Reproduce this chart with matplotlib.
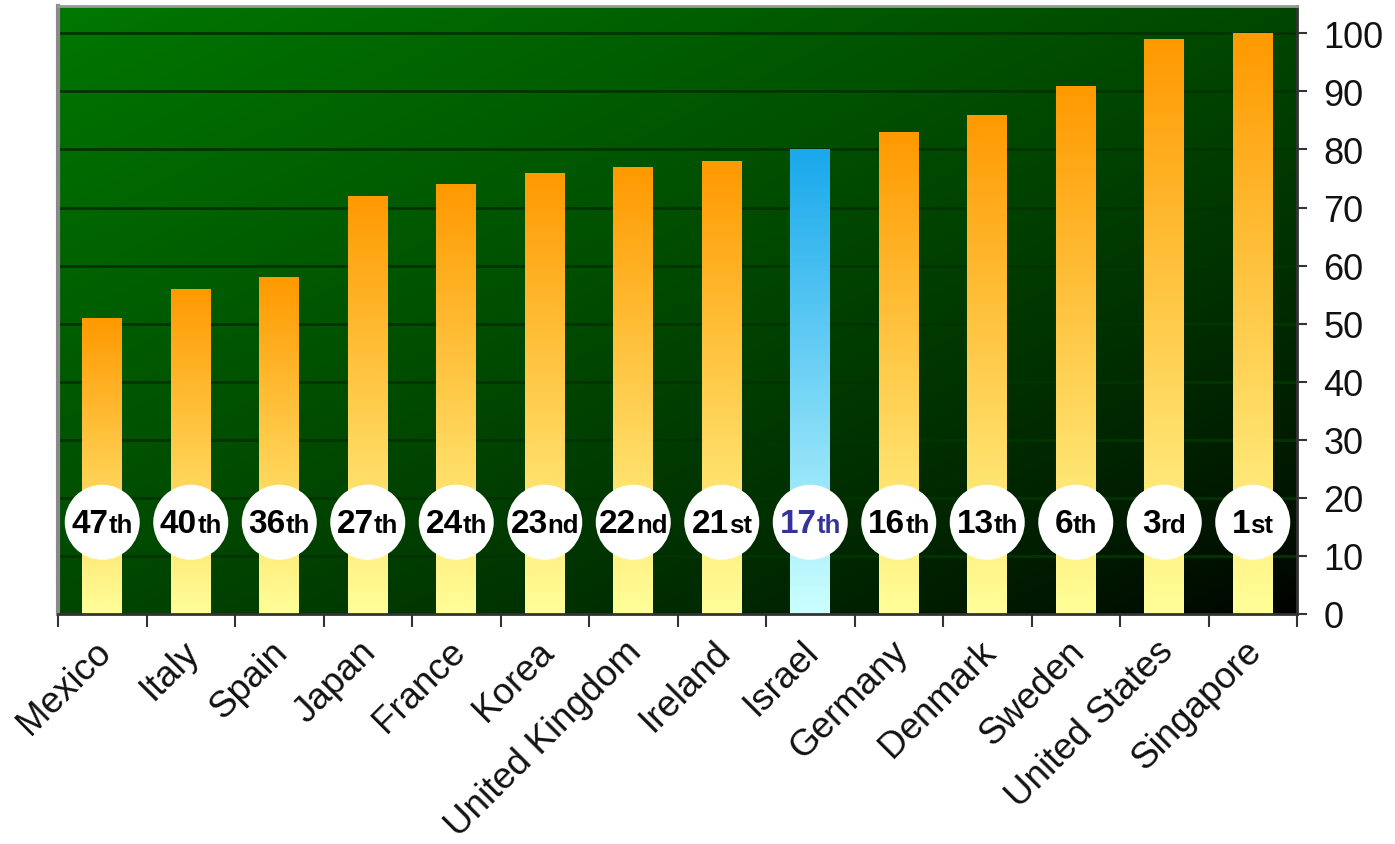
import numpy as np
import matplotlib
matplotlib.use("Agg")
import matplotlib.pyplot as plt
from matplotlib.colors import to_rgb
from matplotlib.offsetbox import TextArea, HPacker, AnnotationBbox
from matplotlib.transforms import ScaledTranslation

# ---- data ----
countries = ["Mexico", "Italy", "Spain", "Japan", "France", "Korea",
             "United Kingdom", "Ireland", "Israel", "Germany", "Denmark",
             "Sweden", "United States", "Singapore"]
scores = [51, 56, 58, 72, 74, 76, 77, 78, 80, 83, 86, 91, 99, 100]
rank_num = ["47", "40", "36", "27", "24", "23", "22", "21", "17", "16", "13", "6", "3", "1"]
rank_suffix = ["th", "th", "th", "th", "th", "nd", "nd", "st", "th", "th", "th", "th", "rd", "st"]
highlight = "Israel"
yticks = list(range(0, 101, 10))

FONT = ["Liberation Sans", "DejaVu Sans"]
plt.rcParams["font.family"] = FONT

fig = plt.figure(figsize=(13.95, 8.45), dpi=100)
ax = fig.add_axes([58 / 1395, 1 - 615 / 845, (1297 - 58) / 1395, (615 - 7) / 845])

n = len(countries)
x = np.arange(n)

# ---- background diagonal gradient (green top-left -> black bottom-right) ----
H, W = 200, 400
uu, vv = np.meshgrid(np.linspace(0, 1, W), np.linspace(0, 1, H))
t = (uu + vv) / 2.0
g = (119 / 255.0) * (1 - t) ** 0.75
bg = np.zeros((H, W, 3))
bg[..., 1] = g
ax.imshow(bg, extent=[0, 1, 0, 1], origin="upper", transform=ax.transAxes,
          aspect="auto", zorder=0, interpolation="bilinear")

# ---- grid ----
for yv in yticks[1:]:
    ax.axhline(yv, color="#023402", lw=2, zorder=1)

# ---- bars with vertical gradient ----
bar_w = 0.447
bars = ax.bar(x, scores, width=bar_w, color="none", edgecolor="none", zorder=2)


def grad_img(top, bottom, npts=256):
    c1 = np.array(to_rgb(top))
    c2 = np.array(to_rgb(bottom))
    s = np.linspace(0, 1, npts)[:, None]
    arr = c1 * (1 - s) + c2 * s
    return arr[:, None, :]


for b, c in zip(bars, countries):
    if c == highlight:
        img = grad_img("#18a8ec", "#ccffff")
    else:
        img = grad_img("#ff9900", "#ffff99")
    im = ax.imshow(img, extent=[b.get_x(), b.get_x() + b.get_width(), 0, b.get_height()],
                   aspect="auto", zorder=2.5, interpolation="bilinear")
    im.set_clip_path(b)

ax.set_xlim(-0.5, n - 0.5)
ax.set_ylim(0, 104.7)

# ---- rank circles and labels ----
circle_y = 15.8
ax.scatter(x, [circle_y] * n, s=54 ** 2, color="white", edgecolor="none", zorder=4)
for xi, num, suf, c in zip(x, rank_num, rank_suffix, countries):
    col = "#333399" if c == highlight else "black"
    t1 = TextArea(num, textprops=dict(fontsize=24, fontweight="bold", color=col, family=FONT))
    t2 = TextArea(suf, textprops=dict(fontsize=18.5, fontweight="bold", color=col, family=FONT))
    box = HPacker(children=[t1, t2], align="baseline", pad=0, sep=0)
    ab = AnnotationBbox(box, (xi, circle_y), xybox=(0, -1), xycoords="data",
                        boxcoords="offset points", frameon=False,
                        box_alignment=(0.5, 0.5), zorder=5)
    ax.add_artist(ab)

# ---- axes styling ----
ax.yaxis.tick_right()
ax.set_yticks(yticks)
ax.set_yticklabels([str(v) for v in yticks])
ax.tick_params(axis="y", direction="out", length=7, width=1.5, color="#333333",
               labelsize=26, pad=12, labelcolor="#111111")

ax.set_xticks(x)
ax.set_xticklabels(countries, rotation=45, ha="right", va="top",
                   rotation_mode="anchor", fontsize=26.5, color="#111111")
ax.tick_params(axis="x", which="major", length=0, pad=14)
shift = ScaledTranslation(-9 / 100, 0, fig.dpi_scale_trans)
for lbl in ax.get_xticklabels():
    lbl.set_transform(lbl.get_transform() + shift)
ax.set_xticks(np.arange(-0.5, n, 1.0), minor=True)
ax.tick_params(axis="x", which="minor", direction="out", length=9, width=1.5,
               color="#333333")

ax.spines["left"].set_color("#8a8a8a")
ax.spines["left"].set_linewidth(3)
ax.spines["top"].set_color("#9a9a9a")
ax.spines["top"].set_linewidth(2)
ax.spines["right"].set_color("#333333")
ax.spines["right"].set_linewidth(2)
ax.spines["bottom"].set_color("#333333")
ax.spines["bottom"].set_linewidth(2)
for s in ax.spines.values():
    s.set_zorder(6)

fig.savefig("out.png", dpi=100)
